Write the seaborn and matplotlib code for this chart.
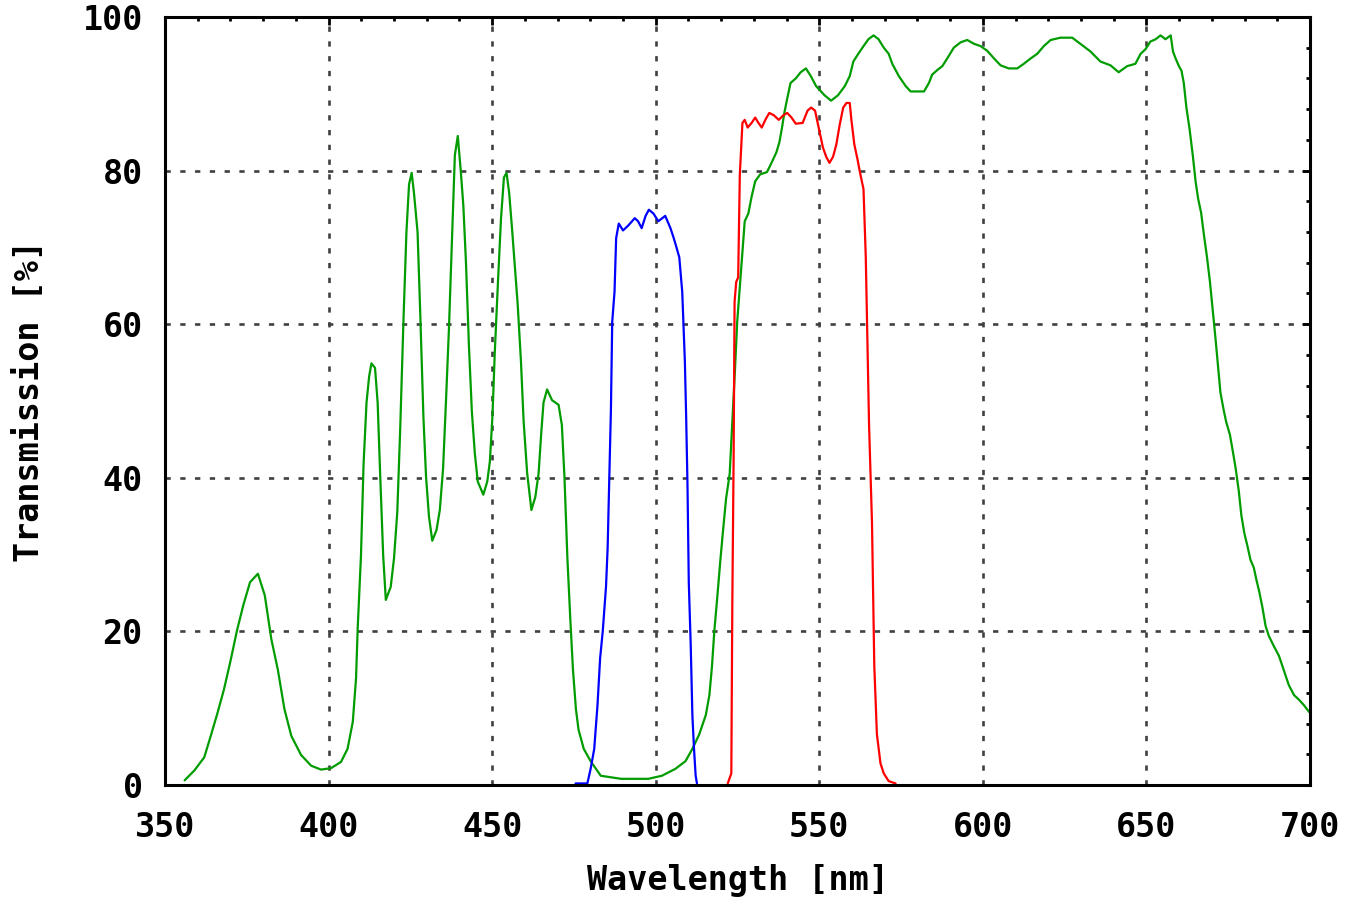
import pandas as pd
import seaborn as sns
import matplotlib.pyplot as plt
from matplotlib.ticker import MultipleLocator

# values (wavelength in nm, transmission in %)
green_nm = [356, 359, 362, 364, 366, 368, 370, 372, 374, 376, 378.4, 380.5, 382.5, 384.5,
            386.5, 388.6, 391.6, 394.7, 397.7, 400.8, 403.8, 405.8, 407.4, 408.4, 408.9,
            409.9, 410.7, 411.6, 412.4, 413.1, 414.2, 415, 415.8, 416.7, 417.5, 419, 420,
            421, 421.9, 422.9, 423.8, 424.6, 425.4, 426.1, 427.2, 428, 429, 429.8, 430.7,
            431.7, 433, 434, 435, 435.9, 436.8, 437.8, 438.6, 439.5, 440.4, 441.2, 442,
            442.9, 443.8, 444.7, 445.6, 447.3, 448.5, 449.3, 450.1, 450.8, 451.8, 452.7,
            453.6, 454.4, 455.2, 456.1, 456.9, 457.8, 458.8, 459.6, 460.7, 462, 463.2,
            464.2, 465, 465.7, 466.8, 468.3, 470.3, 471.3, 472.1, 473, 473.9, 474.7,
            475.6, 476.4, 478, 480.1, 483.2, 489.4, 497.7, 501.9, 506, 509.1, 511.2,
            513.3, 515.3, 516.4, 517.2, 517.9, 518.7, 519.7, 520.5, 521.5, 522.6, 523.4,
            524.2, 524.9, 525.7, 526.5, 527.2, 528.3, 529.3, 530.4, 531.9, 534, 535.5,
            536.9, 537.8, 538.6, 539.3, 540.2, 541.2, 542.8, 544.3, 545.9, 547.4, 549,
            551.6, 553.6, 555.7, 557.8, 559.3, 560.4, 561.9, 563.5, 565, 566.6, 568.1,
            569.7, 571.2, 572.3, 574.3, 576.4, 577.9, 582, 583.5, 584.5, 586.1, 587.6,
            589.1, 591.1, 593.2, 595.2, 597.3, 599.3, 601.3, 603.4, 605.4, 607.9, 610.5,
            612.5, 614.6, 616.6, 618.6, 620.7, 623.7, 627.3, 629.8, 632.9, 635.9, 639,
            641.5, 644.1, 646.6, 648.2, 649.7, 651.2, 652.8, 654.3, 655.8, 657.4, 658.1,
            658.9, 659.9, 660.7, 661.4, 662.2, 663.2, 664.2, 665, 665.8, 666.7, 667.5,
            668.5, 669.4, 670.3, 671.1, 671.9, 672.6, 673.6, 674.4, 675.5, 676.4, 677.3,
            678.2, 679, 679.9, 680.8, 681.8, 682.8, 683.6, 684.5, 685.4, 686.4, 687.4,
            688.9, 690.5, 692, 693.5, 695.1, 696.6, 698.1, 699.7]
green_pct = [0.6, 1.9, 3.6, 6.4, 9.3, 12.4, 16.1, 20.1, 23.5, 26.4, 27.5, 24.7, 19.0, 15.0,
             9.9, 6.4, 3.9, 2.5, 2.0, 2.2, 3.0, 4.7, 8.2, 13.9, 20.4,
             29.8, 41.8, 49.8, 53.2, 54.9, 54.3, 49.8, 40.1, 29.8, 24.1, 25.8, 29.5,
             35.5, 46.4, 60.6, 72.0, 78.2, 79.7, 77.1, 72.0, 61.7, 47.8, 40.1, 34.9,
             31.8, 33.2, 35.8, 41.2, 50.1, 59.5, 72.0, 82.0, 84.5, 80.0, 75.4, 68.0,
             57.2, 48.6, 43.2, 39.5, 37.8, 39.5, 42.1, 48.1, 56.3, 65.7, 73.7,
             79.1, 79.7, 77.1, 72.3, 67.7, 62.6, 55.2, 47.5, 40.6, 35.8, 37.5,
             40.6, 45.8, 49.8, 51.5, 50.1, 49.5, 46.9, 40.1, 29.5, 21.5, 15.0,
             9.9, 7.2, 4.7, 3.1, 1.2, 0.8, 0.8, 1.2, 2.1, 3.1, 4.7,
             6.6, 9.1, 11.7, 15.5, 20.0, 23.9, 29.0, 32.8, 37.3, 40.5, 47.2,
             53.9, 60.3, 64.8, 69.3, 73.4, 74.4, 76.6, 78.6, 79.5, 79.8, 81.1,
             82.4, 83.7, 85.6, 87.5, 89.4, 91.4, 92.0, 92.8, 93.3, 92.3, 91.0,
             89.8, 89.1, 89.8, 91.0, 92.3, 94.2, 95.2, 96.2, 97.1, 97.6, 97.1,
             96.0, 95.2, 93.9, 92.3, 91.0, 90.3, 90.3, 91.4, 92.5, 93.1, 93.6,
             94.6, 96.0, 96.7, 97.0, 96.5, 96.2, 95.6, 94.6, 93.7, 93.3, 93.3,
             93.9, 94.6, 95.2, 96.2, 97.0, 97.3, 97.3, 96.5, 95.5, 94.2, 93.7,
             92.8, 93.6, 93.9, 95.2, 95.8, 96.8, 97.1, 97.6, 97.1, 97.6, 95.5,
             94.6, 93.6, 93.0, 91.4, 88.2, 85.3, 81.8, 78.6, 76.3, 74.5, 71.8,
             68.7, 65.5, 61.6, 58.1, 54.4, 51.1, 48.8, 47.2, 45.6, 43.4, 41.1,
             38.3, 35.1, 32.8, 31.2, 29.3, 28.3, 26.7, 25.1, 23.2, 20.7, 19.4,
             18.1, 16.8, 14.9, 13.0, 11.7, 11.1, 10.4, 9.5]

blue_nm = [475.5, 479.1, 480.1, 481.2, 482.2, 483, 483.8, 484.8, 485.3, 485.8, 486.3, 486.7,
           487.4, 487.9, 488.7, 490, 491.5, 493.6, 494.6, 495.7, 496.9, 497.9, 499.3,
           500.8, 502.9, 504.5, 505.5, 506.2, 507.2, 508.1, 508.9, 509.3, 509.7, 510.1,
           510.7, 511.2, 511.7, 512.2, 512.6]
blue_pct = [0.2, 0.2, 2.1, 4.7, 10.4, 16.5, 20.0, 25.8, 30.9, 39.9, 48.8, 60.3,
            64.2, 71.2, 73.1, 72.2, 72.8, 73.8, 73.4, 72.5, 74.1, 74.9, 74.4,
            73.4, 74.1, 72.5, 71.2, 70.2, 68.7, 64.2, 55.2, 47.9, 39.2, 26.4,
            18.1, 9.1, 4.7, 1.2, 0.2]

red_nm = [522, 523.1, 523.4, 523.8, 524.1, 524.6, 525.2, 525.7, 526.5, 527.2, 528.1, 529.3,
          530.4, 531.4, 532.4, 533.5, 534.7, 536.1, 537.6, 539, 540.2, 541.5, 542.8,
          544.9, 546.4, 547.5, 548.7, 549.5, 550.3, 551.1, 552.1, 553.1, 554.2, 555.2,
          556.2, 557.3, 558.3, 559.3, 559.8, 560.7, 561.7, 562.4, 563.5, 564.2, 565.2,
          566.1, 566.8, 567.6, 568.7, 569.7, 571.2, 573.3]
red_pct = [0.2, 1.5, 23.2, 42.4, 62.9, 65.5, 66.1, 79.5, 86.2, 86.6, 85.6, 86.2,
           86.9, 86.2, 85.6, 86.6, 87.5, 87.2, 86.6, 87.2, 87.5, 86.9, 86.1,
           86.2, 87.8, 88.2, 87.8, 86.2, 84.6, 83.0, 81.8, 81.0, 81.8, 83.4,
           85.9, 88.2, 88.8, 88.8, 86.6, 83.4, 81.4, 79.8, 77.6, 68.7, 46.9,
           34.1, 15.5, 6.6, 2.8, 1.5, 0.5, 0.2]

x_ticks = [350, 400, 450, 500, 550, 600, 650, 700]
y_ticks = [0, 20, 40, 60, 80, 100]

sns.set_style("white")
plt.rcParams['font.family'] = ['DejaVu Sans Mono', 'DejaVu Sans']
plt.rcParams['font.weight'] = 'bold'

fig = plt.figure(figsize=(13.59, 8.97), dpi=100)
ax = fig.add_axes([0.1214, 0.1249, 0.8426, 0.8562])

green = pd.DataFrame({"nm": green_nm, "pct": green_pct})
blue = pd.DataFrame({"nm": blue_nm, "pct": blue_pct})
red = pd.DataFrame({"nm": red_nm, "pct": red_pct})

sns.lineplot(data=green, x="nm", y="pct", color="#009c00", lw=1.6, ax=ax, sort=False)
sns.lineplot(data=blue, x="nm", y="pct", color="#0000ff", lw=1.6, ax=ax, sort=False)
sns.lineplot(data=red, x="nm", y="pct", color="#ff0000", lw=1.6, ax=ax, sort=False)

ax.set_xlim(350, 700)
ax.set_ylim(0, 100)
ax.set_xticks(x_ticks)
ax.set_yticks(y_ticks)
ax.xaxis.set_minor_locator(MultipleLocator(10))
ax.yaxis.set_minor_locator(MultipleLocator(4))

for x in x_ticks[1:-1]:
    ax.axvline(x, color="#404040", lw=1.9, linestyle=(0, (2, 3.6)), zorder=0)
for y in y_ticks[1:-1]:
    ax.axhline(y, color="#404040", lw=1.9, linestyle=(0, (2, 3.6)), zorder=0)

ax.tick_params(which="both", direction="in", top=True, right=True, width=2, colors="black",
               labelsize=24)
ax.tick_params(axis="x", which="major", pad=19)
ax.tick_params(axis="y", which="major", pad=16)
ax.tick_params(which="major", length=6)
ax.tick_params(which="minor", length=3)
for s in ax.spines.values():
    s.set_linewidth(2.2)
    s.set_color("black")

ax.set_xlabel("Wavelength [nm]", fontsize=24, fontweight="bold", color="black", labelpad=14)
ax.set_ylabel("Transmission [%]", fontsize=24, fontweight="bold", color="black")
ax.yaxis.set_label_coords(-0.104, 0.5)

plt.savefig("out.png", dpi=100)
